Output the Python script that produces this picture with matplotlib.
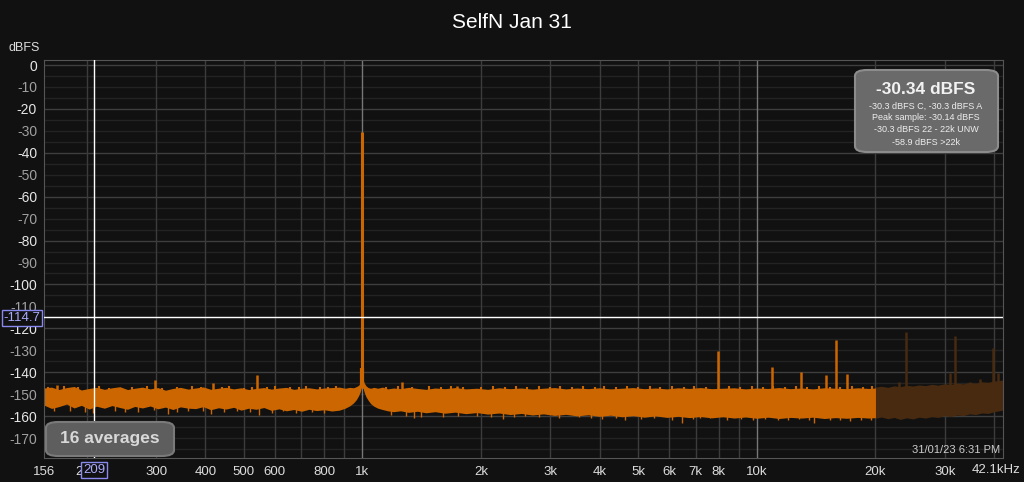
import matplotlib.pyplot as plt
from matplotlib.patches import FancyBboxPatch

plt.rcParams['font.family'] = ['Liberation Sans', 'DejaVu Sans']

# noise floor envelope, 156 Hz - 20 kHz
freq = [156, 163, 170, 178, 186, 194, 203, 212, 222, 232,
        243, 254, 265, 277, 290, 303, 317, 331, 346, 362,
        378, 395, 413, 432, 451, 472, 493, 515, 538, 563,
        588, 615, 642, 671, 702, 733, 766, 801, 837, 875,
        905, 930, 950, 965, 978, 988, 995, 1005, 1012, 1022,
        1035, 1050, 1070, 1095, 1125, 1160, 1200, 1250, 1310, 1380,
        1450, 1530, 1620, 1720, 1830, 1950, 2080, 2220, 2370, 2530,
        2700, 2880, 3070, 3280, 3500, 3740, 3990, 4260, 4550, 4860,
        5190, 5540, 5920, 6320, 6750, 7200, 7690, 8210, 8770, 9360,
        10000, 10680, 11400, 12170, 13000, 13880, 14820, 15820, 16890, 18030,
        19250, 20000]
top = [-147.2, -146.8, -147.9, -147.0, -146.5, -148.1, -147.4, -146.9, -147.8, -147.1,
       -146.6, -147.9, -147.3, -146.8, -147.6, -147.0, -148.2, -147.4, -146.9, -147.7,
       -147.2, -146.7, -147.8, -147.3, -146.9, -147.6, -147.1, -147.9, -147.4, -147.0,
       -147.7, -147.2, -146.9, -147.8, -147.3, -147.1, -147.6, -147.2, -147.0, -146.8,
       -147.3, -146.9, -147.1, -146.6, -146.0, -145.0, -143.4, -143.4, -145.0, -146.2,
       -147.0, -147.3, -146.9, -147.3, -146.8, -147.6, -147.2, -147.5, -146.9, -147.4,
       -147.8, -147.2, -147.5, -147.0, -147.6, -147.3, -147.8, -147.1, -147.5, -147.2,
       -147.7, -147.3, -147.0, -147.6, -147.2, -147.5, -147.1, -147.6, -147.3, -147.0,
       -147.5, -147.2, -147.6, -147.1, -147.4, -147.0, -147.5, -147.3, -147.1, -147.6,
       -147.2, -147.4, -147.0, -147.5, -147.2, -147.6, -147.1, -147.3, -147.5, -147.1,
       -147.4, -147.2]
bottom = [-155.0, -156.5, -155.7, -154.5, -156.3, -155.1, -156.8, -155.5, -156.4, -155.2,
          -156.1, -156.9, -155.6, -156.3, -155.4, -156.7, -155.9, -157.0, -155.8, -156.4,
          -156.6, -155.7, -157.1, -156.2, -156.8, -156.0, -157.3, -156.4, -156.9, -156.1,
          -157.4, -156.7, -157.6, -157.0, -157.8, -156.9, -157.5, -157.1, -157.7, -157.3,
          -156.4, -155.3, -154.0, -152.6, -150.8, -149.0, -147.0, -147.4, -149.3, -151.2,
          -152.8, -154.3, -155.5, -156.4, -157.0, -157.6, -158.0, -157.6, -158.3, -157.8,
          -158.5, -158.0, -158.7, -158.2, -158.9, -158.4, -159.1, -158.6, -159.3, -158.8,
          -159.5, -159.0, -159.7, -159.2, -159.9, -159.4, -160.1, -159.6, -160.3, -159.8,
          -160.5, -159.9, -160.6, -160.1, -160.7, -160.2, -160.8, -160.3, -160.9, -160.4,
          -161.0, -160.5, -161.1, -160.6, -160.9, -160.5, -161.1, -160.7, -161.0, -160.6,
          -160.9, -160.7]

# above 20 kHz (dimmed part)
freq_hi = [20000, 20700, 21500, 22300, 23100, 24000, 24900, 25800, 26800, 27800, 28800,
           29900, 31000, 32200, 33400, 34600, 35900, 37200, 38600, 40000, 41500, 42100]
top_hi = [-146.8, -146.4, -146.9, -146.2, -146.6, -146.0, -146.3, -145.8, -146.1, -145.5, -145.9,
          -145.3, -145.6, -145.0, -145.3, -144.7, -145.0, -144.4, -144.6, -144.0, -143.7, -143.5]
bottom_hi = [-161.0, -160.4, -161.2, -160.6, -161.5, -160.8, -161.3, -160.5, -160.9, -160.2, -160.6,
             -159.8, -160.2, -159.5, -159.8, -159.0, -159.3, -158.6, -158.8, -158.0, -157.5, -157.2]

# spurs sticking out of the floor
spur_freq = [168, 299, 419, 540, 1259, 1735, 7990, 10950, 12940, 14950, 15900, 16890]
spur_level = [-146.0, -143.6, -144.8, -141.3, -144.5, -146.3, -130.4, -137.8, -140.0, -141.3, -125.3, -140.7]
spur_hi_freq = [22900, 23850, 30940, 31770, 34700, 36800, 39640, 40800]
spur_hi_level = [-144.3, -121.8, -140.2, -123.5, -144.3, -143.0, -128.8, -140.5]

# small ripples on top of the floor
bump_freq = [160, 175, 190, 215, 228, 260, 285, 310, 340, 370, 390, 440, 460, 500, 525,
             575, 600, 655, 690, 720, 780, 820, 860, 1150, 1230, 1340, 1480, 1580, 1680,
             1800, 2000, 2150, 2300, 2450, 2620, 2800, 3000, 3180, 3400, 3620, 3880, 4100,
             4400, 4700, 5000, 5350, 5700, 6100, 6550, 6950, 7450, 8500, 9050, 9700,
             10350, 11000, 11800, 12600, 13400, 14400, 15300, 16300, 17400, 18600, 19600]
bump_level = [-146.6, -146.4, -146.9, -146.5, -147.0, -146.8, -146.3, -147.0, -146.6, -146.4,
              -146.9, -146.7, -146.5, -147.0, -146.6, -146.8, -146.4, -146.9, -146.6, -146.5,
              -146.8, -146.7, -146.5, -146.6, -146.4, -146.8, -146.5, -146.9, -146.2, -146.7,
              -146.6, -146.4, -146.8, -146.5, -146.7, -146.3, -146.8, -146.5, -146.6, -146.4,
              -146.9, -146.5, -146.7, -146.3, -146.8, -146.5, -146.6, -146.2, -146.7, -146.4,
              -146.6, -146.4, -146.7, -146.5, -146.6, -146.3, -146.7, -146.5, -146.8, -146.4,
              -146.6, -146.7, -146.4, -146.6, -146.5]

# downward spikes in the floor
dip_freq = [165, 182, 198, 208, 236, 250, 270, 296, 322, 340, 362, 395, 414, 445, 480,
            520, 546, 590, 630, 680, 745, 800, 1180, 1290, 1352, 1410, 1600, 1750, 1953,
            2120, 2275, 2420, 2590, 2800, 3150, 3550, 3810, 4050, 4400, 4630, 5100, 5500,
            6083, 6450, 6900, 7180, 7600, 8400, 9100, 9800, 10500, 11340, 12000, 12800,
            13600, 14000, 15320, 16300, 17200, 18400, 19500]
dip_level = [-157.5, -157.8, -158.3, -158.6, -157.6, -158.0, -158.2, -157.4, -159.0, -158.0,
             -157.5, -157.9, -159.0, -158.3, -157.6, -158.1, -159.5, -158.4, -157.8, -158.6,
             -158.2, -158.5, -159.5, -160.0, -161.0, -160.5, -160.2, -159.8, -160.0, -160.5,
             -161.5, -160.3, -160.0, -160.6, -160.8, -160.4, -161.0, -161.2, -160.8, -162.0,
             -161.3, -160.9, -162.0, -163.0, -161.5, -161.0, -161.0, -161.6, -161.2, -161.8,
             -161.4, -162.0, -161.7, -161.3, -162.0, -163.0, -162.0, -161.8, -162.3, -161.6,
             -162.0]

fund_freq = 1000
fund_level = -30.34

cursor_freq = 209
cursor_level = -114.7

xtick_vals = [156, 200, 300, 400, 500, 600, 800, 1000, 2000, 3000, 4000,
              5000, 6000, 7000, 8000, 10000, 20000, 30000]
xtick_text = ['156', '200', '300', '400', '500', '600', '800', '1k', '2k', '3k', '4k',
              '5k', '6k', '7k', '8k', '10k', '20k', '30k']
grid_freq = [200, 300, 400, 500, 600, 700, 800, 900, 2000, 3000, 4000, 5000,
             6000, 7000, 8000, 9000, 20000, 30000, 40000]
grid_bright = [1000, 10000]

orange = '#cc6600'
brown = '#472a10'
bg = '#111111'

fig = plt.figure(figsize=(10.24, 4.82), dpi=100, facecolor=bg)
ax = fig.add_axes([44/1024, 1 - 458/482, 959/1024, 398/482], facecolor=bg)
ax.set_xscale('log')
ax.set_xlim(156, 42100)
ax.set_ylim(-179.1, 2.3)

# grid
for v in range(0, -180, -5):
    c = '#3e3e3e' if v % 20 == 0 else '#232323'
    ax.axhline(v, color=c, lw=1, zorder=0.5)
for f in grid_freq:
    ax.axvline(f, color='#3c3c3c', lw=1, zorder=0.5)
for f in grid_bright:
    ax.axvline(f, color='#777777', lw=1, zorder=0.6)

# spectrum
ax.fill_between(freq, bottom, top, color=orange, lw=0, zorder=2)
ax.fill_between(freq_hi, bottom_hi, top_hi, color=brown, lw=0, zorder=2)
ax.vlines(bump_freq, -149, bump_level, color=orange, lw=1.5, zorder=2)
ax.vlines(dip_freq, -152, dip_level, color=orange, lw=1.0, zorder=2)
ax.vlines(spur_freq, -149, spur_level, color=orange, lw=1.8, zorder=2)
ax.vlines(spur_hi_freq, -149, spur_hi_level, color=brown, lw=1.8, zorder=2)
ax.vlines(fund_freq, -146, -138, color=orange, lw=3, zorder=2)
ax.vlines(fund_freq, -146, fund_level, color=orange, lw=2.2, zorder=2)

# cursor
ax.axvline(cursor_freq, color='white', lw=1, zorder=3)
ax.axhline(cursor_level, color='white', lw=1, zorder=3)

for s in ax.spines.values():
    s.set_color('#555555')

ax.set_xticks(xtick_vals)
ax.set_xticklabels(xtick_text)
ax.xaxis.set_minor_locator(plt.NullLocator())
yt = list(range(0, -171, -10))
ax.set_yticks(yt)
ax.set_yticklabels([str(v) for v in yt])
ax.tick_params(axis='both', length=0)
ax.tick_params(axis='x', pad=6, colors='#dddddd', labelsize=9.5)
ax.tick_params(axis='y', pad=5, labelsize=10)
for v, lab in zip(yt, ax.get_yticklabels()):
    lab.set_color('#e6e6e6' if v % 20 == 0 else '#a0a0a0')

W, H = 1024, 482
def fx(px):
    return px / W
def fy(py):
    return 1 - py / H

fig.text(fx(996), fy(470), '42.1kHz', color='#dddddd', fontsize=9.5, ha='center', va='center')
fig.text(fx(24), fy(48), 'dBFS', color='#dddddd', fontsize=9, ha='center', va='center')
fig.text(0.5, fy(22), 'SelfN Jan 31', color='white', fontsize=15, ha='center', va='center')
fig.text(fx(1000), fy(450), '31/01/23 6:31 PM', color='#cccccc', fontsize=8, ha='right', va='center')

# cursor readouts
fig.text(fx(22), fy(318), '-114.7', color='#aaaaff', fontsize=9.5, ha='center', va='center',
         bbox=dict(boxstyle='square,pad=0.15', fc=bg, ec='#8888ee', lw=1))
fig.text(fx(94), fy(470), '209', color='#aaaaff', fontsize=9.5, ha='center', va='center',
         bbox=dict(boxstyle='square,pad=0.15', fc=bg, ec='#8888ee', lw=1))

# info box
box = FancyBboxPatch((fx(855), fy(152)), fx(998) - fx(855), fy(70) - fy(152),
                     boxstyle='round,pad=0,rounding_size=0.012', transform=fig.transFigure,
                     fc='#6a6a6a', ec='#8c8c8c', lw=1.5, zorder=5)
fig.patches.append(box)
fig.text(fx(926), fy(89), '-30.34 dBFS', color='#f2f2f2', fontsize=12.5, fontweight='bold',
         ha='center', va='center', zorder=6)
info_lines = ['-30.3 dBFS C, -30.3 dBFS A', 'Peak sample: -30.14 dBFS',
              '-30.3 dBFS 22 - 22k UNW', '-58.9 dBFS >22k']
for i, t in enumerate(info_lines):
    fig.text(fx(926), fy(106 + 12 * i), t, color='#eeeeee', fontsize=6.5,
             ha='center', va='center', zorder=6)

# averages badge
badge = FancyBboxPatch((fx(46), fy(456)), fx(174) - fx(46), fy(422) - fy(456),
                       boxstyle='round,pad=0,rounding_size=0.012', transform=fig.transFigure,
                       fc='#5e5e5e', ec='#7a7a7a', lw=1.5, zorder=5)
fig.patches.append(badge)
fig.text(fx(110), fy(439), '16 averages', color='#d8d8d8', fontsize=12.5, fontweight='bold',
         ha='center', va='center', zorder=6)

fig.savefig('out.png', dpi=100, facecolor=bg)
